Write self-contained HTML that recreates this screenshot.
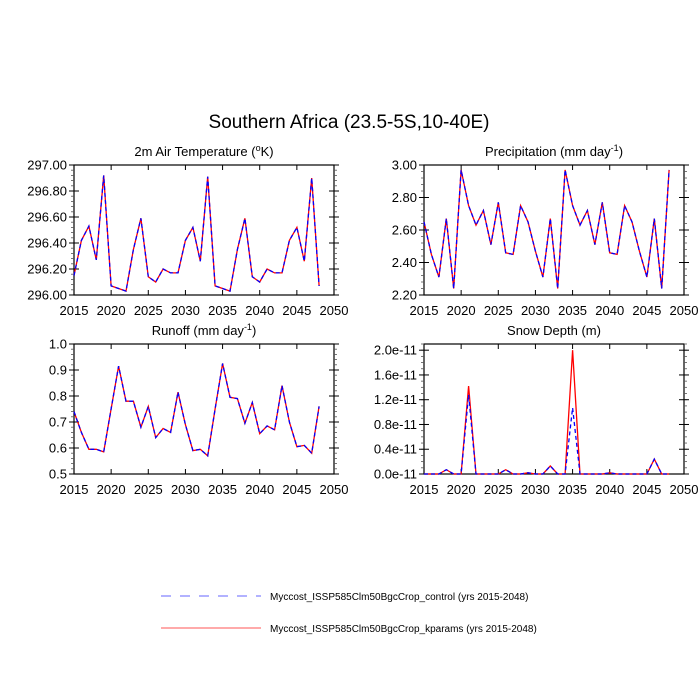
<!DOCTYPE html>
<html><head><meta charset="utf-8"><style>
html,body{margin:0;padding:0;background:#fff;width:700px;height:700px;overflow:hidden}
svg text{font-family:"Liberation Sans",Arial,sans-serif;fill:#000}
</style></head><body>
<svg id="s" width="700" height="700" xmlns="http://www.w3.org/2000/svg"></svg>
<script>
const S=document.getElementById('s');let h='';
h+='<text x="349" y="128" font-size="19" text-anchor="middle">Southern Africa (23.5-5S,10-40E)</text>';
const yrs=[];for(let y=2015;y<=2048;y++)yrs.push(y);
const T=[296.15,296.42,296.53,296.27,296.92,296.07,296.05,296.03,296.35,296.59,296.14,296.10,296.20,296.17,296.17,296.42,296.52,296.26,296.91,296.07,296.05,296.03,296.35,296.59,296.14,296.10,296.20,296.17,296.17,296.42,296.52,296.26,296.90,296.07];
const P=[2.65,2.45,2.31,2.67,2.24,2.97,2.75,2.63,2.72,2.51,2.77,2.46,2.45,2.75,2.65,2.47,2.31,2.67,2.24,2.97,2.75,2.63,2.72,2.51,2.77,2.46,2.45,2.75,2.65,2.47,2.31,2.67,2.24,2.97];
const R=[0.74,0.66,0.595,0.595,0.585,0.75,0.915,0.78,0.78,0.68,0.76,0.64,0.675,0.66,0.815,0.69,0.59,0.595,0.57,0.75,0.925,0.795,0.79,0.695,0.775,0.655,0.685,0.67,0.84,0.70,0.605,0.61,0.58,0.76];
const Sr=yrs.map(()=>0),Sb=yrs.map(()=>0);
function set(a,y,v){a[y-2015]=v}
[[2018,.07],[2021,1.42],[2026,.07],[2029,.02],[2032,.13],[2035,2.0],[2040,.02],[2046,.24]].forEach(p=>set(Sr,p[0],p[1]));
[[2018,.07],[2021,1.28],[2026,.07],[2029,.02],[2032,.13],[2035,1.07],[2040,.02],[2046,.24]].forEach(p=>set(Sb,p[0],p[1]));
function panel(x0,y0,title,ymin,ymax,ticks,minStep,labs,red,blue){
 const w=260,ht=130;
 const X=y=>x0+(y-2015)/35*w, Y=v=>y0+ht-(v-ymin)/(ymax-ymin)*ht;
 h+=`<text x="${x0+w/2}" y="${y0-9}" font-size="13" text-anchor="middle">${title}</text>`;
 h+=`<rect x="${x0}" y="${y0}" width="${w}" height="${ht}" fill="none" stroke="#000" stroke-width="1.2"/>`;
 for(let y=2015;y<=2050;y+=5){const x=X(y);
  h+=`<line x1="${x}" y1="${y0+ht}" x2="${x}" y2="${y0+ht-5}" stroke="#000"/><line x1="${x}" y1="${y0}" x2="${x}" y2="${y0+5}" stroke="#000"/>`;
  h+=`<text x="${x}" y="${y0+ht+20}" font-size="13" text-anchor="middle">${y}</text>`;}
 for(let v=ymin;v<=ymax+1e-9;v+=minStep){const yy=Y(v);
  h+=`<line x1="${x0-3}" y1="${yy}" x2="${x0}" y2="${yy}" stroke="#555" stroke-width="0.8"/><line x1="${x0+w}" y1="${yy}" x2="${x0+w+3}" y2="${yy}" stroke="#555" stroke-width="0.8"/>`;}
 ticks.forEach((v,i)=>{const yy=Y(v);
  h+=`<line x1="${x0-5}" y1="${yy}" x2="${x0+5}" y2="${yy}" stroke="#000"/><line x1="${x0+w-5}" y1="${yy}" x2="${x0+w+5}" y2="${yy}" stroke="#000"/>`;
  h+=`<text x="${x0-7}" y="${yy+4.5}" font-size="13" text-anchor="end">${labs[i]}</text>`;});
 const pts=a=>a.map((v,i)=>X(yrs[i]).toFixed(1)+','+Y(v).toFixed(1)).join(' ');
 h+=`<polyline points="${pts(red)}" fill="none" stroke="#f00" stroke-width="1.3"/>`;
 h+=`<polyline points="${pts(blue)}" fill="none" stroke="#00f" stroke-width="1.3" stroke-dasharray="4,3"/>`;
}
panel(74,165,'2m Air Temperature (<tspan font-size="9" dy="-5">o</tspan><tspan dy="5">K)</tspan>',296,297,[296,296.2,296.4,296.6,296.8,297],0.04,['296.00','296.20','296.40','296.60','296.80','297.00'],T,T);
panel(424,165,'Precipitation (mm day<tspan font-size="9" dy="-5">-1</tspan><tspan dy="5">)</tspan>',2.2,3.0,[2.2,2.4,2.6,2.8,3.0],0.04,['2.20','2.40','2.60','2.80','3.00'],P,P);
panel(74,344,'Runoff (mm day<tspan font-size="9" dy="-5">-1</tspan><tspan dy="5">)</tspan>',0.5,1.0,[0.5,0.6,0.7,0.8,0.9,1.0],0.02,['0.5','0.6','0.7','0.8','0.9','1.0'],R,R);
panel(424,344,'Snow Depth (m)',0,2.1,[0,0.4,0.8,1.2,1.6,2.0],0.1,['0.0e-11','0.4e-11','0.8e-11','1.2e-11','1.6e-11','2.0e-11'],Sr,Sb);
h+='<line x1="161" y1="596" x2="261" y2="596" stroke="#66f" stroke-dasharray="10,9"/>';
h+='<text x="270" y="600" font-size="10">Myccost_ISSP585Clm50BgcCrop_control (yrs 2015-2048)</text>';
h+='<line x1="161" y1="628" x2="261" y2="628" stroke="#f55"/>';
h+='<text x="270" y="632" font-size="10">Myccost_ISSP585Clm50BgcCrop_kparams (yrs 2015-2048)</text>';
S.innerHTML=h;
</script>
</body></html>
